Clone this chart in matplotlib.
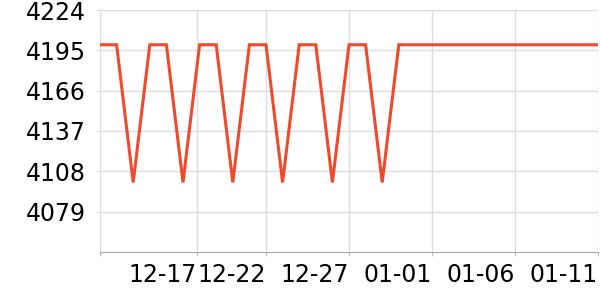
import matplotlib
matplotlib.use('Agg')
import matplotlib.pyplot as plt

# дневные значения, начиная с 12-12
days = list(range(31))
hi, lo = 4199, 4100
values = [hi, hi, lo, hi, hi, lo, hi, hi, lo, hi, hi, lo, hi, hi, lo, hi, hi, lo] + [hi] * 13

y_ticks = [4079, 4108, 4137, 4166, 4195, 4224]
x_tick_pos = [0, 5.84, 10, 15, 20, 25, 30]
x_tick_labels = ['', '12-17', '12-22', '12-27', '01-01', '01-06', '01-11']

fig = plt.figure(figsize=(6, 3), dpi=100)
ax = fig.add_axes([100 / 600, 48 / 300, 498 / 600, 242 / 300])

ax.plot(days, values, color='#f04a2d', linewidth=2.2, solid_joinstyle='miter', zorder=3)

ax.set_xlim(0, 30)
ax.set_ylim(4050, 4224)
ax.set_yticks(y_ticks)
ax.set_xticks(x_tick_pos)
ax.set_xticklabels(x_tick_labels, ha='right')

ax.grid(True, color='#dddddd', linewidth=1)
ax.tick_params(axis='y', length=3, color='#dddddd', labelsize=17, pad=7)
ax.tick_params(axis='x', length=3, color='#bbbbbb', labelsize=17, pad=5)

for s in ['top', 'right']:
    ax.spines[s].set_visible(False)
ax.spines['left'].set_color('#dddddd')
ax.spines['bottom'].set_color('#aaaaaa')

fig.savefig('out.png', dpi=100)
